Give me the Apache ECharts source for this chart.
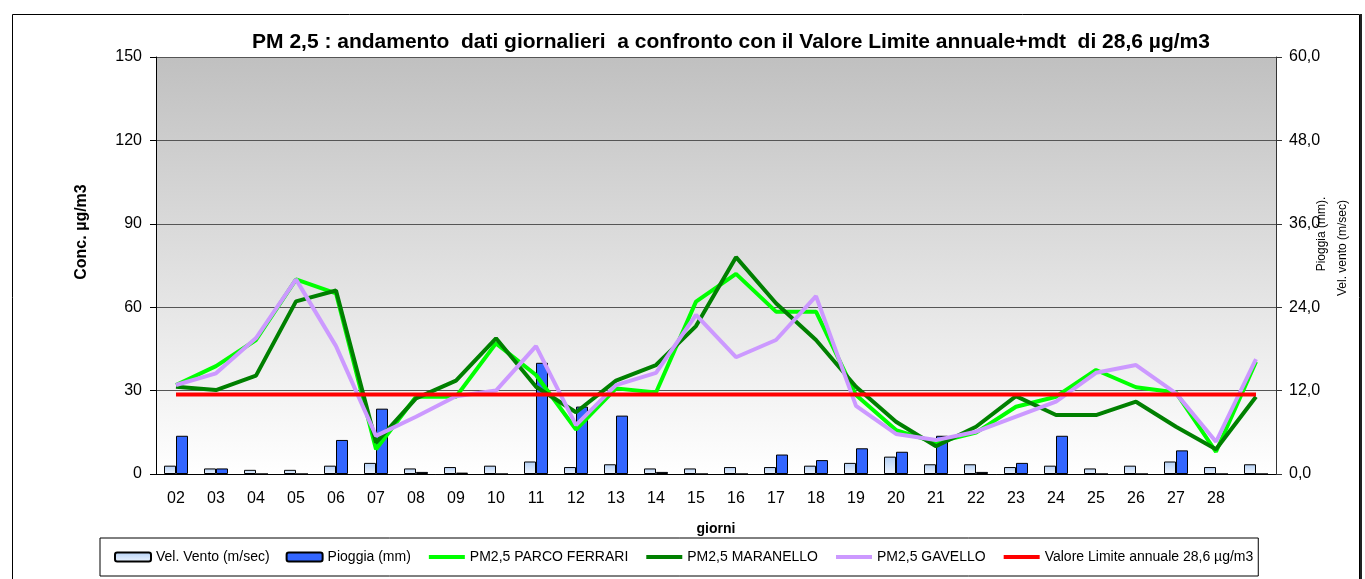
<!DOCTYPE html>
<html>
<head>
<meta charset="utf-8">
<script src="https://cdn.jsdelivr.net/npm/echarts@6/dist/echarts.min.js"></script>
<style>
  html, body { margin: 0; padding: 0; background: #fff; }
  #chart { width: 1365px; height: 579px; }
</style>
</head>
<body>
<div id="chart"></div>
<script>
// giorni del mese (l'ultima colonna non ha etichetta)
const giorni = ['02', '03', '04', '05', '06', '07', '08', '09', '10', '11', '12', '13', '14', '15',
  '16', '17', '18', '19', '20', '21', '22', '23', '24', '25', '26', '27', '28', ''];

// asse destro (0-60)
const velVento = [1.2, 0.8, 0.6, 0.6, 1.2, 1.6, 0.8, 1.0, 1.2, 1.8, 1.0, 1.4, 0.8, 0.8,
  1.0, 1.0, 1.2, 1.6, 2.5, 1.4, 1.4, 1.0, 1.2, 0.8, 1.2, 1.8, 1.0, 1.4];
const pioggia = [5.5, 0.8, 0, 0, 4.9, 9.4, 0.3, 0.2, 0, 16.0, 9.7, 8.4, 0.3, 0,
  0, 2.8, 2.0, 3.7, 3.2, 5.5, 0.3, 1.6, 5.5, 0, 0, 3.4, 0, 0];

// asse sinistro (µg/m3)
const parcoFerrari = [32, 38.8, 48.2, 70, 65, 8.9, 27.8, 27.8, 47, 35.6, 16, 30.8, 29.3, 62,
  72, 58.4, 58.4, 28.4, 15.8, 11.3, 14.9, 24.2, 27.8, 37.4, 31.2, 29.3, 8, 40.4];
const maranello = [31.4, 30.2, 35.4, 62.1, 66, 11.3, 27.2, 33.6, 48.8, 31.4, 22.2, 33.6, 39.2, 53.2,
  78, 61.4, 48.2, 31.4, 18.8, 10, 17, 28, 21.2, 21.2, 26, 17, 8.9, 27.8];
const gavello = [32, 36.2, 48.9, 70, 46, 13.7, 20.6, 28, 30, 46, 17.6, 32, 36.4, 57.2,
  42, 48.2, 64, 24.5, 14.4, 12.2, 15.2, 20.6, 26, 36.4, 39.2, 29, 11.6, 41.3];
const valoreLimite = 28.6;

const leftTicks = [0, 30, 60, 90, 120, 150];
const rightTicks = [0, 12, 24, 36, 48, 60];

const FONT = "'Liberation Sans', Arial, sans-serif";

const chart = echarts.init(document.getElementById('chart'));

// voce di legenda per le linee: solo il tratto, senza simbolo
const lineLegend = name => ({ name, itemStyle: { opacity: 0 }, lineStyle: { width: 4 } });

const option = {
  animation: false,
  textStyle: { fontFamily: FONT, color: '#000' },
  grid: {
    left: 156, right: 89, top: 57, bottom: 105,
    show: true,
    borderWidth: 0,
    backgroundColor: {
      type: 'linear', x: 0, y: 0, x2: 0, y2: 1,
      colorStops: [{ offset: 0, color: '#c0c0c0' }, { offset: 1, color: '#ffffff' }]
    }
  },
  legend: {
    left: 100,
    top: 538,
    padding: [12, 5, 12, 14],
    itemGap: 16,
    itemWidth: 36,
    itemHeight: 9,
    borderColor: '#000',
    borderWidth: 1,
    backgroundColor: '#fff',
    textStyle: { fontFamily: FONT, fontSize: 14, color: '#000' },
    data: [
      'Vel. Vento (m/sec)',
      'Pioggia (mm)',
      lineLegend('PM2,5 PARCO FERRARI'),
      lineLegend('PM2,5 MARANELLO'),
      lineLegend('PM2,5 GAVELLO'),
      lineLegend('Valore Limite annuale 28,6 µg/m3')
    ]
  },
  xAxis: {
    type: 'category',
    data: giorni,
    name: 'giorni',
    nameLocation: 'middle',
    nameGap: 48,
    nameTextStyle: { fontFamily: FONT, fontSize: 14, fontWeight: 'bold', color: '#000' },
    axisLine: { lineStyle: { color: '#000', width: 1 } },
    axisTick: { length: 5, interval: 0, lineStyle: { color: '#000' } },
    axisLabel: { interval: 0, margin: 17, fontSize: 16, color: '#000', fontFamily: FONT }
  },
  yAxis: [
    {
      type: 'value',
      min: leftTicks[0], max: leftTicks[leftTicks.length - 1], interval: 30,
      axisLine: { show: true, lineStyle: { color: '#000', width: 1 } },
      axisTick: { show: true, length: 6, lineStyle: { color: '#000' } },
      axisLabel: { margin: 14, fontSize: 16, color: '#000', fontFamily: FONT },
      splitLine: { show: true, lineStyle: { color: '#555', width: 1 } }
    },
    {
      type: 'value',
      min: rightTicks[0], max: rightTicks[rightTicks.length - 1], interval: 12,
      position: 'right',
      axisLine: { show: true, lineStyle: { color: '#333', width: 1 } },
      axisTick: { show: true, length: 6, lineStyle: { color: '#333' } },
      axisLabel: {
        margin: 13, fontSize: 16, color: '#000', fontFamily: FONT,
        formatter: v => v.toFixed(1).replace('.', ',')
      },
      splitLine: { show: false }
    }
  ],
  series: [
    {
      name: 'Vel. Vento (m/sec)',
      type: 'bar',
      yAxisIndex: 1,
      barWidth: 12,
      barGap: '0%',
      data: velVento,
      itemStyle: {
        color: {
          type: 'linear', x: 0, y: 0, x2: 0, y2: 1,
          colorStops: [{ offset: 0, color: '#b4d0f5' }, { offset: 1, color: '#eef5ff' }]
        },
        borderColor: '#000',
        borderWidth: 1
      }
    },
    {
      name: 'Pioggia (mm)',
      type: 'bar',
      yAxisIndex: 1,
      barWidth: 12,
      barGap: '0%',
      data: pioggia,
      itemStyle: { color: '#3366ff', borderColor: '#000', borderWidth: 1 }
    },
    {
      name: 'PM2,5 PARCO FERRARI',
      type: 'line',
      symbol: 'none',
      data: parcoFerrari,
      itemStyle: { color: '#00ff00' },
      lineStyle: { color: '#00ff00', width: 4 }
    },
    {
      name: 'PM2,5 MARANELLO',
      type: 'line',
      symbol: 'none',
      data: maranello,
      itemStyle: { color: '#008000' },
      lineStyle: { color: '#008000', width: 4 }
    },
    {
      name: 'PM2,5 GAVELLO',
      type: 'line',
      symbol: 'none',
      data: gavello,
      itemStyle: { color: '#cc99ff' },
      lineStyle: { color: '#cc99ff', width: 4 }
    },
    {
      name: 'Valore Limite annuale 28,6 µg/m3',
      type: 'line',
      symbol: 'none',
      data: giorni.map(() => valoreLimite),
      itemStyle: { color: '#ff0000' },
      lineStyle: { color: '#ff0000', width: 4 }
    }
  ],
  graphic: [
    // cornice del grafico
    {
      type: 'rect', silent: true, z: -1,
      shape: { x: 12.5, y: 14.5, width: 1347, height: 600 },
      style: { fill: null, stroke: '#000', lineWidth: 1 }
    },
    {
      type: 'line', silent: true,
      shape: { x1: 1361, y1: 14, x2: 1361, y2: 579 },
      style: { stroke: '#222', lineWidth: 2 }
    },
    {
      type: 'text', silent: true,
      x: 731, y: 42,
      style: {
        text: 'PM 2,5 : andamento  dati giornalieri  a confronto con il Valore Limite annuale+mdt  di 28,6 µg/m3',
        font: 'bold 21px ' + FONT,
        fill: '#000',
        align: 'center',
        verticalAlign: 'middle'
      }
    },
    {
      type: 'text', silent: true,
      x: 82, y: 232, rotation: Math.PI / 2,
      style: {
        text: 'Conc. µg/m3',
        font: 'bold 16px ' + FONT,
        fill: '#000', align: 'center', verticalAlign: 'middle'
      }
    },
    {
      type: 'text', silent: true,
      x: 1322, y: 234, rotation: Math.PI / 2,
      style: {
        text: 'Pioggia (mm).',
        font: '12px ' + FONT,
        fill: '#000', align: 'center', verticalAlign: 'middle'
      }
    },
    {
      type: 'text', silent: true,
      x: 1343, y: 248, rotation: Math.PI / 2,
      style: {
        text: 'Vel. vento (m/sec)',
        font: '12px ' + FONT,
        fill: '#000', align: 'center', verticalAlign: 'middle'
      }
    }
  ]
};

chart.setOption(option);
</script>
</body>
</html>
